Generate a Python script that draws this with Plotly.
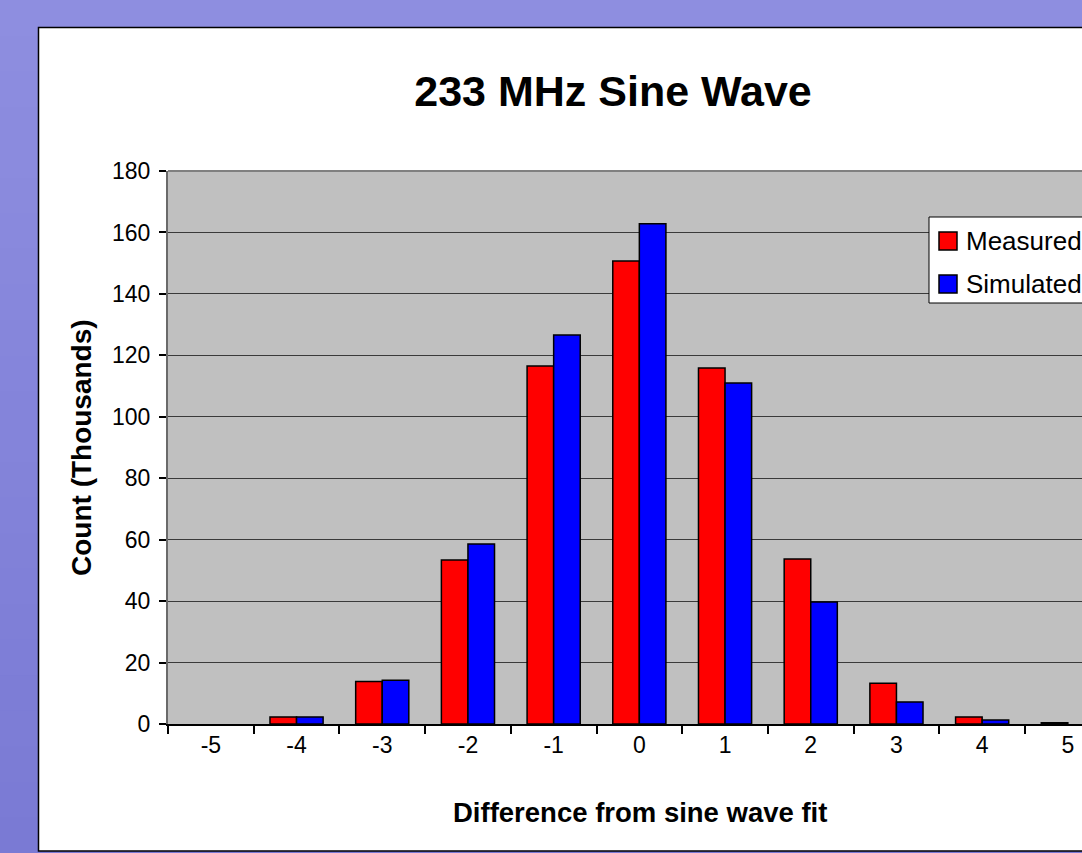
import plotly.graph_objects as go

# Histogram of deviations from the sine-wave fit (counts in thousands)
categories = ["-5", "-4", "-3", "-2", "-1", "0", "1", "2", "3", "4", "5"]
measured = [None, 2.3, 13.8, 53.4, 116.5, 150.7, 115.9, 53.7, 13.3, 2.3, 0.4]
simulated = [None, 2.3, 14.2, 58.6, 126.6, 162.8, 111.0, 39.7, 7.2, 1.3, None]
series_names = ["Measured", "Simulated"]
series_colors = ["#FF0000", "#0000FF"]
y_ticks = list(range(0, 181, 20))

W, H = 1082, 853
L, T, B = 168, 171, 129
PW, PH = W - L, H - T - B
CAT_W = 85.7
FONT = "Arial, Liberation Sans, sans-serif"


def px(x):
    return (x - L) / PW


def py(y):
    return (H - B - y) / PH


fig = go.Figure()
for name, vals, col in zip(series_names, [measured, simulated], series_colors):
    fig.add_trace(go.Bar(
        x=categories, y=vals, name=name,
        marker=dict(color=col, line=dict(color="black", width=1.5)),
        showlegend=False,
    ))

shapes = []
# lavender gradient frame around the white chart card
top_rgb = (142, 142, 224)
bot_rgb = (122, 122, 212)
n = 24
for i in range(n):
    f = i / (n - 1)
    c = tuple(round(a + (b - a) * f) for a, b in zip(top_rgb, bot_rgb))
    y0 = H * i / n
    y1 = H * (i + 1) / n
    shapes.append(dict(type="rect", xref="paper", yref="paper",
                       x0=px(0), x1=px(38), y0=py(y0), y1=py(y1 + 1),
                       line=dict(width=0), fillcolor="rgb(%d,%d,%d)" % c, layer="below"))
shapes.append(dict(type="rect", xref="paper", yref="paper",
                   x0=px(0), x1=px(W + 5), y0=py(0), y1=py(27),
                   line=dict(width=0), fillcolor="rgb(%d,%d,%d)" % top_rgb, layer="below"))
shapes.append(dict(type="rect", xref="paper", yref="paper",
                   x0=px(0), x1=px(W + 5), y0=py(851), y1=py(H + 2),
                   line=dict(width=0), fillcolor="rgb(%d,%d,%d)" % bot_rgb, layer="below"))
# card border
shapes.append(dict(type="rect", xref="paper", yref="paper",
                   x0=px(38.5), x1=px(W + 20), y0=py(27.5), y1=py(851),
                   line=dict(color="black", width=1.5), layer="below"))
# plot area top border
shapes.append(dict(type="line", xref="paper", yref="paper",
                   x0=0, x1=1, y0=1, y1=1, line=dict(color="#808080", width=2)))

# legend box
lg_x0, lg_y0, lg_y1 = 929, 217, 303
shapes.append(dict(type="rect", xref="paper", yref="paper",
                   x0=px(lg_x0), x1=px(W + 20), y0=py(lg_y0), y1=py(lg_y1),
                   line=dict(color="black", width=1), fillcolor="white"))
annotations = []
for i, (name, col) in enumerate(zip(series_names, series_colors)):
    cy = 241 + 43 * i
    shapes.append(dict(type="rect", xref="paper", yref="paper",
                       x0=px(939), x1=px(957), y0=py(cy - 9), y1=py(cy + 9),
                       line=dict(color="black", width=1.5), fillcolor=col))
    annotations.append(dict(text=name, xref="paper", yref="paper",
                            x=px(964), y=py(cy), xanchor="left", yanchor="middle",
                            showarrow=False, font=dict(family=FONT, size=26, color="black")))

# axis titles
annotations.append(dict(text="<b>Count (Thousands)</b>", xref="paper", yref="paper",
                        x=px(81), y=py(448), xanchor="center", yanchor="middle", textangle=-90,
                        showarrow=False, font=dict(family=FONT, size=28, color="black")))
annotations.append(dict(text="<b>Difference from sine wave fit</b>", xref="paper", yref="paper",
                        x=px(640), y=py(812), xanchor="center", yanchor="middle",
                        showarrow=False, font=dict(family=FONT, size=27.5, color="black")))

fig.update_layout(
    width=W, height=H,
    margin=dict(l=L, r=0, t=T, b=B, pad=0, autoexpand=False),
    paper_bgcolor="white",
    plot_bgcolor="#C0C0C0",
    barmode="group",
    bargap=0.38,
    bargroupgap=0,
    title=dict(text="<b>233 MHz Sine Wave</b>", xref="container", yref="container",
               x=613 / W, y=1 - 91 / H, xanchor="center", yanchor="middle",
               font=dict(family=FONT, size=43, color="black")),
    shapes=shapes,
    annotations=annotations,
    showlegend=False,
    xaxis=dict(
        type="category", range=[-0.5, -0.5 + PW / CAT_W],
        tickson="boundaries", ticks="outside", ticklen=8, tickcolor="black", tickwidth=1.5,
        showgrid=False, showline=True, linecolor="black", linewidth=1.5,
        tickfont=dict(family=FONT, size=23, color="black"),
        fixedrange=True,
    ),
    yaxis=dict(
        range=[0, 180], tickvals=y_ticks, ticks="outside", ticklen=7, tickcolor="black",
        tickwidth=1.5, showgrid=True, gridcolor="#3a3a3a", gridwidth=1,
        showline=True, linecolor="#6a6a6a", linewidth=2, zeroline=False,
        ticklabelstandoff=4,
        tickfont=dict(family=FONT, size=23, color="black"),
        fixedrange=True,
    ),
)

fig.write_html("out.html")
